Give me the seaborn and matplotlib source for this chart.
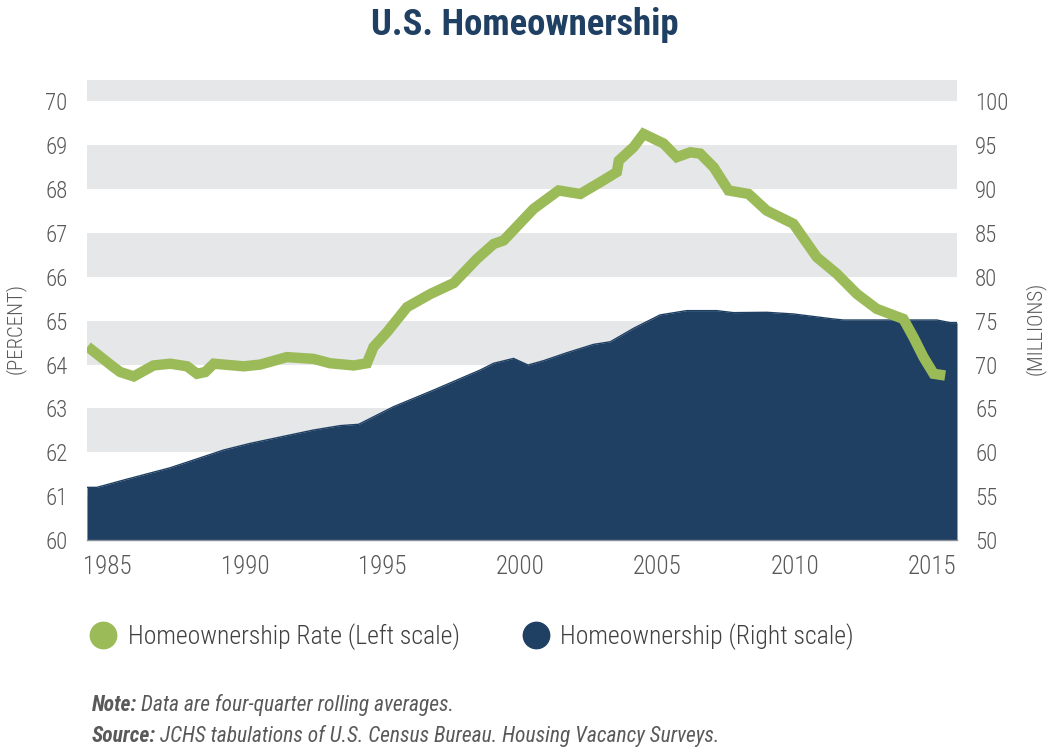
import matplotlib
matplotlib.use("Agg")
import matplotlib.pyplot as plt
from matplotlib import font_manager
from matplotlib.lines import Line2D
import seaborn as sns
import pandas as pd

# ---- data ----
rate_years = [1984.28, 1985.23, 1985.47, 1985.96, 1986.68, 1987.29, 1987.90, 1988.26,
              1988.56, 1988.87, 1989.96, 1990.56, 1991.53, 1992.50, 1993.10, 1993.96,
              1994.44, 1994.68, 1995.17, 1995.90, 1996.75, 1997.60, 1998.44, 1999.05,
              1999.41, 2000.50, 2001.41, 2002.20, 2002.93, 2003.53, 2003.60, 2004.14,
              2004.50, 2005.23, 2005.71, 2006.20, 2006.56, 2007.05, 2007.59, 2008.32,
              2008.98, 2009.95, 2010.80, 2011.53, 2012.26, 2012.98, 2013.95, 2014.32,
              2014.68, 2015.05, 2015.47]
rate_values = [64.41, 63.94, 63.83, 63.73, 63.98, 64.02, 63.96, 63.79,
               63.83, 64.02, 63.96, 64.00, 64.17, 64.13, 64.03, 63.98,
               64.03, 64.40, 64.74, 65.31, 65.61, 65.86, 66.41, 66.75,
               66.83, 67.55, 67.97, 67.89, 68.16, 68.39, 68.65, 68.96,
               69.26, 69.04, 68.73, 68.84, 68.81, 68.50, 67.97, 67.89,
               67.51, 67.21, 66.45, 66.07, 65.61, 65.27, 65.04, 64.62,
               64.17, 63.79, 63.75]

owners_years = [1984.26, 1984.62, 1985.60, 1987.29, 1989.23, 1990.20, 1992.50, 1993.47,
                1994.14, 1995.41, 1996.87, 1998.56, 1999.05, 1999.77, 2000.30, 2000.87,
                2001.72, 2002.68, 2003.29, 2004.14, 2005.10, 2006.07, 2007.16, 2007.77,
                2008.98, 2009.95, 2011.40, 2011.77, 2015.17, 2015.65, 2015.90]
owners_values = [56.00, 56.00, 56.84, 58.24, 60.26, 61.02, 62.54, 63.04,
                 63.19, 65.20, 67.10, 69.38, 70.15, 70.70, 69.95, 70.45,
                 71.36, 72.30, 72.60, 74.14, 75.66, 76.15, 76.15, 75.92,
                 75.96, 75.77, 75.20, 75.08, 75.08, 74.78, 74.78]

x_ticks = [1985, 1990, 1995, 2000, 2005, 2010, 2015]
left_ticks = list(range(60, 71))
right_ticks = list(range(50, 101, 5))

title = "U.S. Homeownership"
left_label = "(PERCENT)"
right_label = "(MILLIONS)"
legend_labels = ["Homeownership Rate (Left scale)", "Homeownership (Right scale)"]

GREEN = "#9BBB59"
NAVY = "#1F4063"
BAND = "#E6E7E9"
TEXT = "#595959"


def pick(*names):
    avail = {f.name for f in font_manager.fontManager.ttflist}
    for n in names:
        if n in avail:
            return n
    return "DejaVu Sans"


sns.set_style("white")
NARROW = pick("Liberation Sans Narrow", "Roboto Condensed", "Roboto", "Liberation Sans")
plt.rcParams["font.family"] = [NARROW, "DejaVu Sans"]

df_rate = pd.DataFrame({"year": rate_years, "rate": rate_values})
df_own = pd.DataFrame({"year": owners_years, "owners": owners_values})

fig = plt.figure(figsize=(10.5, 7.56), dpi=100)
ax = fig.add_axes([87 / 1050, 1 - 540 / 756, 870 / 1050, 460.5 / 756])  # right scale (millions)
ax2 = ax.twinx()  # left scale (percent)

# background bands (in right-scale units)
for lo in [50, 60, 70, 80, 90, 100]:
    ax.axhspan(lo, lo + 5 if lo < 100 else 102.5, color=BAND, lw=0, zorder=0)

# navy area
ax.fill_between(df_own["year"], 50, df_own["owners"], color=NAVY, lw=0, zorder=2)
sns.lineplot(data=df_own, x="year", y="owners", ax=ax, color=NAVY, lw=1, zorder=3)

# green line
sns.lineplot(data=df_rate, x="year", y="rate", ax=ax2, color=GREEN, lw=7.5,
             solid_capstyle="butt", solid_joinstyle="miter", zorder=4)

xmin, xmax = 1984.26, 2015.9
ax.set_xlim(xmin, xmax)
ax.set_ylim(50, 102.5)
ax2.set_ylim(60, 70.5)

ax.yaxis.tick_right()
ax2.yaxis.tick_left()
ax.set_yticks(right_ticks)
ax2.set_yticks(left_ticks)
ax.set_xticks(x_ticks)
ax.set_xlabel("")
ax.set_ylabel("")
ax2.set_ylabel("")
ax2.set_xlabel("")

for a in (ax, ax2):
    for s in a.spines.values():
        s.set_visible(False)
    a.tick_params(length=0, labelsize=16.5, labelcolor=TEXT)
    for lab in a.get_yticklabels() + a.get_xticklabels():
        lab.set_fontweight("light")
ax.spines["bottom"].set_visible(True)
ax.spines["bottom"].set_color("#8a9099")
ax.spines["bottom"].set_linewidth(1)
ax.tick_params(axis="x", pad=11, labelsize=18)
ax.tick_params(axis="y", pad=13)
ax2.tick_params(axis="y", pad=14)

fig.text(15 / 1050, 1 - 328 / 756, left_label, rotation=90, ha="center", va="center",
         fontsize=15, color=TEXT, fontweight="light")
fig.text(1035 / 1050, 1 - 328 / 756, right_label, rotation=90, ha="center", va="center",
         fontsize=15, color=TEXT, fontweight="light")

fig.text(0.5, 1 - 25 / 756, title, ha="center", va="center", fontsize=26.5,
         fontweight="bold", color=NAVY)

handles = [Line2D([], [], marker="o", ls="", markersize=19, color=GREEN),
           Line2D([], [], marker="o", ls="", markersize=19, color=NAVY)]
leg = fig.legend(handles, legend_labels, loc="center left",
                 bbox_to_anchor=(88 / 1050, 1 - 637 / 756), ncol=2, frameon=False,
                 fontsize=18.5, handletextpad=0.35, columnspacing=2.35, handlelength=1.2,
                 borderaxespad=0, borderpad=0)
for t in leg.get_texts():
    t.set_color("#404040")
    t.set_fontweight("light")


def note_line(y, head, body):
    t1 = fig.text(92 / 1050, 1 - y / 756, head, fontsize=15.5, color=TEXT, va="center",
                  style="italic", fontweight="bold")
    fig.canvas.draw()
    bb = t1.get_window_extent()
    x2 = (bb.x1 + 4) / fig.bbox.width
    fig.text(x2, 1 - y / 756, body, fontsize=15.5, color=TEXT, va="center", style="italic")
    return t1


note_line(705, "Note:", "Data are four-quarter rolling averages.")
note_line(736, "Source:", "JCHS tabulations of U.S. Census Bureau. Housing Vacancy Surveys.")

fig.savefig("out.png", dpi=100)
